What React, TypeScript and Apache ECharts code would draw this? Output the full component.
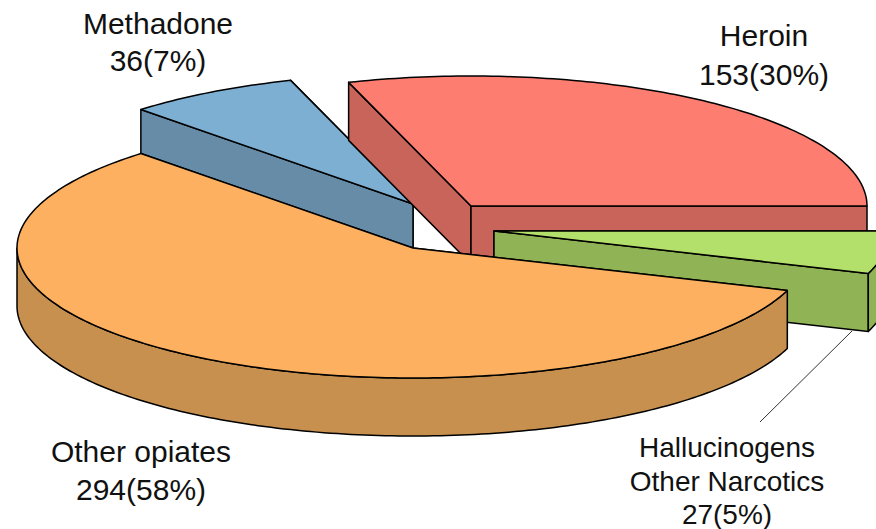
import React, { useEffect, useRef } from "react";
import * as echarts from "echarts";

const categories = ["Heroin", "Methadone", "Other opiates", "Hallucinogens Other Narcotics"];
const counts = [153, 36, 294, 27];
const topColors = ["#FD7E71", "#7DAFD2", "#FDB160", "#B3E06A"];
const wallColors = ["#C9645A", "#668CA8", "#C8904F", "#8FB355"];
const drawOrder = [1, 0, 3, 2];
const labelLines = [
  ["Heroin", "153(30%)"],
  ["Methadone", "36(7%)"],
  ["Other opiates", "294(58%)"],
  ["Hallucinogens", "Other Narcotics", "27(5%)"],
];
const labelCentres = [
  [764, [35, 74]],
  [158, [23, 60]],
  [141, [451, 489]],
  [727, [447, 481, 514]],
] as [number, number[]][];
const labelSizes = [30, 30, 30, 28];
const sliceCentres = [
  [471, 206],
  [413, 204],
  [413, 248],
  [494, 231],
];

const RX = 396;
const RY = 130;
const DEPTH = 58;
const total = counts.reduce((a, b) => a + b, 0);
const starts: number[] = [];
counts.reduce((acc, v, i) => {
  starts[i] = acc;
  return acc + (v / total) * Math.PI * 2;
}, 0);

function arc(cx: number, cy: number, a0: number, a1: number): number[][] {
  const pts: number[][] = [];
  const n = Math.max(2, Math.ceil((a1 - a0) / (Math.PI / 180)));
  for (let i = 0; i <= n; i++) {
    const a = a0 + ((a1 - a0) * i) / n;
    pts.push([cx + RX * Math.cos(a), cy - RY * Math.sin(a)]);
  }
  return pts;
}

function renderItem(_params: any, api: any) {
  const idx = api.value(0) as number;
  const [cx, cy] = sliceCentres[idx];
  const a0 = starts[idx];
  const a1 = a0 + (api.value(1) / total) * Math.PI * 2;
  const stroke = { stroke: "#000", lineWidth: 1.5, lineJoin: "round" };
  const wall = { ...stroke, fill: wallColors[idx] };
  const children: any[] = [];
  const down = (p: number[]) => [p[0], p[1] + DEPTH];
  // cut faces: the one whose rim point lies further back is painted first
  const faces = [a0, a1]
    .map((a) => arc(cx, cy, a, a)[0])
    .sort((p, q) => p[1] - q[1]);
  faces.forEach((e) => {
    children.push({
      type: "polygon",
      shape: { points: [[cx, cy], e, down(e), [cx, cy + DEPTH]] },
      style: wall,
    });
  });
  // outer wall: only the part of the rim facing the viewer (lower half of the ellipse)
  const s = Math.max(a0, Math.PI);
  const e = Math.min(a1, Math.PI * 2);
  if (e > s) {
    const rim = arc(cx, cy, s, e);
    children.push({
      type: "polygon",
      shape: { points: [...rim, ...rim.slice().reverse().map(down)] },
      style: wall,
    });
  }
  children.push({
    type: "polygon",
    shape: { points: [[cx, cy], ...arc(cx, cy, a0, a1)] },
    style: { ...stroke, fill: topColors[idx] },
  });
  return { type: "group", children };
}

export default function App() {
  const ref = useRef<HTMLDivElement>(null);
  useEffect(() => {
    const chart = echarts.init(ref.current!, null, { renderer: "svg" });
    const texts: any[] = [];
    labelLines.forEach((lines, i) => {
      const [x, ys] = labelCentres[i];
      lines.forEach((t, j) => {
        texts.push({
          type: "text",
          x,
          y: ys[j],
          style: {
            text: t,
            fill: "#111",
            font: `${labelSizes[i]}px "Liberation Sans", Arial, sans-serif`,
            textAlign: "center",
            textVerticalAlign: "middle",
          },
        });
      });
    });
    chart.setOption({
      animation: false,
      backgroundColor: "#fff",
      graphic: [
        {
          type: "line",
          shape: { x1: 852, y1: 331, x2: 760, y2: 422 },
          style: { stroke: "#333", lineWidth: 1 },
          z: 1,
        },
        ...texts,
      ],
      series: [
        {
          type: "custom",
          coordinateSystem: "none",
          renderItem,
          data: drawOrder.map((i) => ({ name: categories[i], value: [i, counts[i]] })),
          silent: true,
          clip: false,
        },
      ],
    });
    return () => chart.dispose();
  }, []);
  return (
    <div
      ref={ref}
      style={{ position: "absolute", left: 0, top: 0, width: 876, height: 529, overflow: "hidden" }}
    />
  );
}
